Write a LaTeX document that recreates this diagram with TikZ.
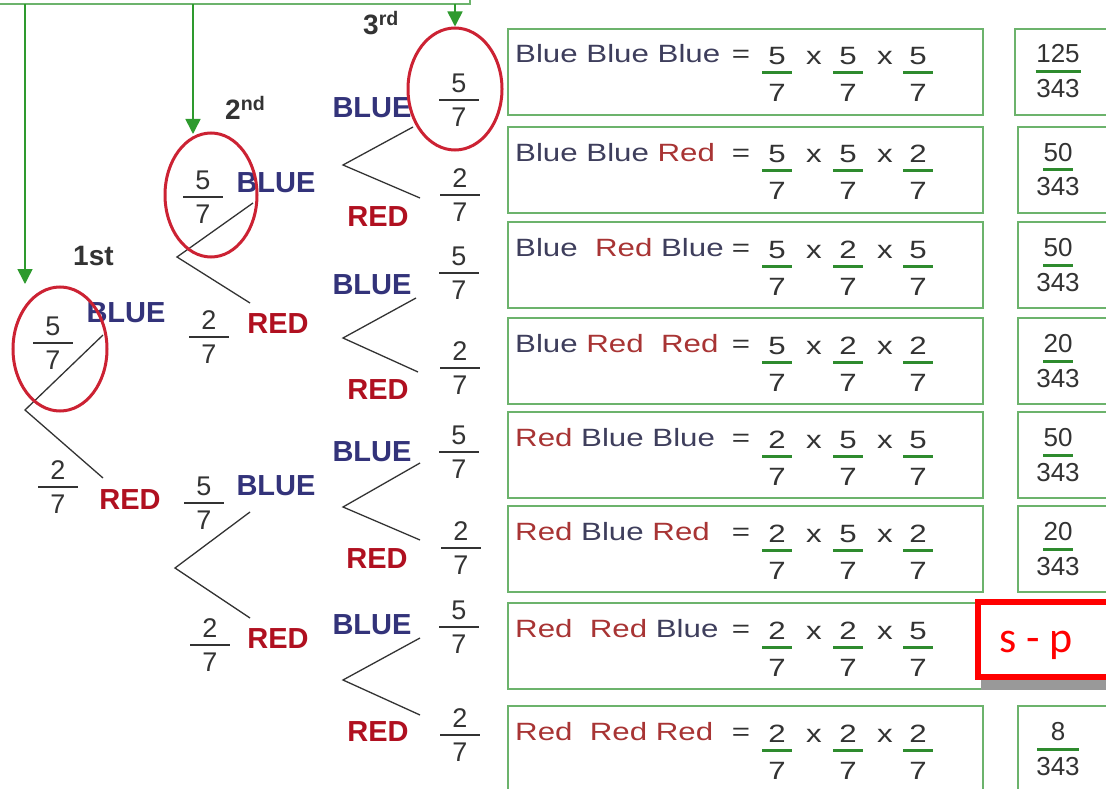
\documentclass[tikz,border=0pt]{standalone}
\usepackage{fontspec}
\setmainfont{Liberation Sans}
\newfontfamily\boxfont[FakeStretch=1.25]{Liberation Sans}
\newfontfamily\spfont{Carlito}
\usetikzlibrary{arrows.meta,shapes.geometric}
\definecolor{tblue}{HTML}{33337A}
\definecolor{tred}{HTML}{B01020}
\definecolor{bblue}{HTML}{3E3E5C}
\definecolor{bred}{HTML}{A83434}
\definecolor{gframe}{HTML}{6CB36C}
\definecolor{gbarc}{HTML}{2E8B2E}
\definecolor{garr}{HTML}{2E9A2E}
\definecolor{cred}{HTML}{CC2233}
\definecolor{ink}{HTML}{333333}
\newcommand\Bw{\textcolor{bblue}{Blue}}
\newcommand\Rw{\textcolor{bred}{Red}}
\tikzset{
 tnum/.style={font=\fontsize{27}{27}\selectfont, text=ink, inner sep=0pt},
 tbar/.style={draw=ink, line width=1.2pt},
 blab/.style={font=\bfseries\fontsize{29}{29}\selectfont, text=tblue, inner sep=0pt},
 rlab/.style={font=\bfseries\fontsize{29}{29}\selectfont, text=tred, inner sep=0pt},
 ordl/.style={font=\bfseries\fontsize{28}{28}\selectfont, text=ink, inner sep=0pt, anchor=base west},
 branch/.style={draw=ink, line width=1.3pt},
 ring/.style={draw=cred, line width=3pt, ellipse, inner sep=0pt},
 garrow/.style={draw=garr, line width=1.6pt, -{Triangle[width=15pt,length=15pt]}},
 boxframe/.style={draw=gframe, line width=1.6pt},
 wtxt/.style={font=\boxfont\fontsize{25}{25}\selectfont, inner sep=0pt, anchor=base west},
 bnum/.style={font=\boxfont\fontsize{25}{25}\selectfont, text=ink, inner sep=0pt, anchor=base},
 gbar/.style={draw=gbarc, line width=3pt},
 rnum/.style={font=\fontsize{26}{26}\selectfont, text=ink, inner sep=0pt, anchor=base},
}
% tree fraction: name, x, bar y, numerator
\newcommand\TF[4]{\draw[tbar] (#2-20,#3) -- (#2+20,#3);
 \node[tnum] (#1n) at (#2,#3-17) {#4};
 \node[tnum] (#1d) at (#2,#3+17) {7};}
% box fraction: name, x, row top, numerator
\newcommand\BF[4]{\node[bnum] (#1n) at (#2,#3+36) {#4};
 \draw[gbar] (#2-15,#3+44) -- (#2+15,#3+44);
 \node[bnum] (#1d) at (#2,#3+73) {7};}
% row: name, top, words, three numerators
\newcommand\ROW[6]{\draw[boxframe] (508,#2) rectangle (983,#2+86);
 \node[wtxt] (#1w) at (515,#2+34) {#3};
 \node[bnum] (#1eq) at (741,#2+34) {=};
 \BF{#1a}{777}{#2}{#4}
 \node[bnum] (#1xa) at (814,#2+36) {x};
 \BF{#1b}{848}{#2}{#5}
 \node[bnum] (#1xb) at (885,#2+36) {x};
 \BF{#1c}{918}{#2}{#6}}
% result: name, left x, top, numerator, bar width
\newcommand\RES[5]{\draw[boxframe] (#2,#3) rectangle (1120,#3+86);
 \node[rnum] (#1n) at (1058,#3+34) {#4};
 \draw[gbar] (1058-#5/2,#3+43) -- (1058+#5/2,#3+43);
 \node[rnum] (#1d) at (1058,#3+69) {343};}
\begin{document}
\begin{tikzpicture}[x=1pt,y=-1pt]
\useasboundingbox (0,0) rectangle (1106,789);
\clip (0,0) rectangle (1106,789);
\fill[white] (0,0) rectangle (1106,789);
% top frame edge and arrows
\coordinate (tl) at (0,4);
\coordinate (tr) at (470,4);
\coordinate (trt) at (470,-4);
\draw[boxframe] (tl) -- (tr) -- (trt);
\coordinate (t1) at (25,4);
\coordinate (t2) at (193,4);
\coordinate (t3) at (455,4);
\coordinate (e1) at (25,284);
\coordinate (e2) at (193,134);
% ordinal labels
\node[ordl] (o1) at (73,265) {1st};
\node[ordl] (o2) at (225,120) {2\textsuperscript{nd}};
\node[ordl] (o3) at (363,35) {3\textsuperscript{rd}};
% level 1
\TF{fa}{53}{343}{5}
\TF{fb}{58}{487}{2}
\node[blab] (b1) at (126,313) {BLUE};
\node[rlab] (r1) at (130,500) {RED};
% level 2
\TF{fc}{203}{197}{5}
\TF{fd}{209}{337}{2}
\node[blab] (b2) at (276,183) {BLUE};
\node[rlab] (r2) at (278,324) {RED};
\TF{fe}{204}{503}{5}
\TF{ff}{210}{645}{2}
\node[blab] (b3) at (276,486) {BLUE};
\node[rlab] (r3) at (278,639) {RED};
% level 3
\TF{fg}{459}{100}{5}
\TF{fh}{460}{195}{2}
\node[blab] (b4) at (372,108) {BLUE};
\node[rlab] (r4) at (378,217) {RED};
\TF{fi}{459}{273}{5}
\TF{fj}{460}{368}{2}
\node[blab] (b5) at (372,285) {BLUE};
\node[rlab] (r5) at (378,390) {RED};
\TF{fk}{459}{452}{5}
\TF{fl}{461}{548}{2}
\node[blab] (b6) at (372,452) {BLUE};
\node[rlab] (r6) at (377,559) {RED};
\TF{fm}{459}{627}{5}
\TF{fn}{460}{735}{2}
\node[blab] (b7) at (372,625) {BLUE};
\node[rlab] (r7) at (378,732) {RED};
% branches
\coordinate (v1) at (25,410); \coordinate (v1u) at (103,335); \coordinate (v1d) at (103,478);
\coordinate (v2) at (177,257); \coordinate (v2u) at (253,203); \coordinate (v2d) at (250,303);
\coordinate (v3) at (175,568); \coordinate (v3u) at (250,512); \coordinate (v3d) at (250,618);
\coordinate (v4) at (343,165); \coordinate (v4u) at (413,127); \coordinate (v4d) at (420,198);
\coordinate (v5) at (343,338); \coordinate (v5u) at (416,298); \coordinate (v5d) at (418,372);
\coordinate (v6) at (343,507); \coordinate (v6u) at (420,463); \coordinate (v6d) at (420,540);
\coordinate (v7) at (343,680); \coordinate (v7u) at (420,638); \coordinate (v7d) at (420,715);
\foreach \v in {v1,v2,v3,v4,v5,v6,v7}{\draw[branch] (\v u) -- (\v) -- (\v d);}
% rings
\node[ring, minimum width=94pt, minimum height=124pt] (c1) at (60,349) {};
\node[ring, minimum width=92pt, minimum height=124pt] (c2) at (211,195) {};
\node[ring, minimum width=94pt, minimum height=122pt] (c3) at (455,89) {};
\draw[garrow] (t1) -- (e1);
\draw[garrow] (t2) -- (e2);
\draw[garrow] (t3) -- (c3.north);
% rows
\ROW{ra}{29}{\Bw\ \Bw\ \Bw}{5}{5}{5}
\ROW{rb}{127}{\Bw\ \Bw\ \Rw}{5}{5}{2}
\ROW{rc}{222}{\Bw\ \ \Rw\ \Bw}{5}{2}{5}
\ROW{rd}{318}{\Bw\ \Rw\ \ \Rw}{5}{2}{2}
\ROW{re}{412}{\Rw\ \Bw\ \Bw}{2}{5}{5}
\ROW{rf}{506}{\Rw\ \Bw\ \Rw}{2}{5}{2}
\ROW{rg}{603}{\Rw\ \ \Rw\ \Bw}{2}{2}{5}
\ROW{rh}{706}{\Rw\ \ \Rw\ \Rw}{2}{2}{2}
% results
\RES{qa}{1015}{29}{125}{45}
\RES{qb}{1018}{127}{50}{30}
\RES{qc}{1018}{222}{50}{30}
\RES{qd}{1018}{318}{20}{30}
\RES{qe}{1018}{412}{50}{30}
\RES{qf}{1018}{506}{20}{30}
\RES{qh}{1018}{706}{8}{42}
% s - p box
\fill[gray!80] (981,680) rectangle (1112,690);
\draw[draw=red, line width=6pt, fill=white] (978,602) rectangle (1112,677);
\node[font=\spfont\fontsize{44}{44}\selectfont, text=red, inner sep=0pt] (sp) at (1036,645) {s - p};
\end{tikzpicture}
\end{document}
